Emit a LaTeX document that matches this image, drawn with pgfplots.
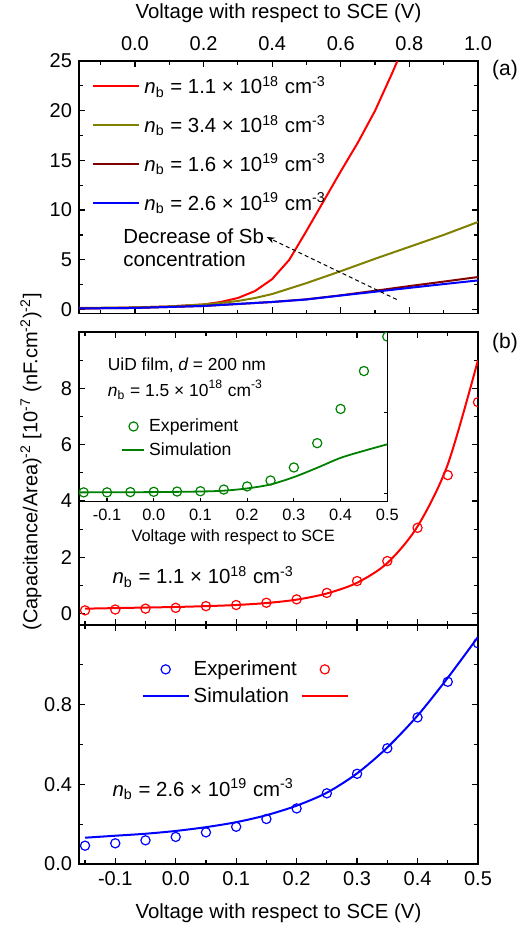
\documentclass[border=0pt]{standalone}
\usepackage{fontspec}
\setmainfont{Liberation Sans}
\usepackage{pgfplots}
\pgfplotsset{compat=1.18}
\usetikzlibrary{arrows.meta}

\definecolor{cRed}{RGB}{255,0,0}
\definecolor{cOlive}{RGB}{128,128,0}
\definecolor{cDark}{RGB}{128,0,0}
\definecolor{cBlue}{RGB}{0,0,255}
\definecolor{cGreen}{RGB}{0,128,0}

\newcommand{\nb}{{\itshape n}\textsubscript{b}}

\pgfplotsset{
  panel/.style={
    scale only axis, width=199.5pt, anchor=north west,
    axis line style={line width=0.7pt},
    every tick/.style={black, line width=0.6pt},
    major tick length=3pt, minor tick length=1.8pt,
    tick label style={font=\fontsize{10}{12}\selectfont},
    label style={font=\fontsize{10.2}{12}\selectfont},
    /pgf/number format/assume math mode=true,
    clip=true, clip marker paths=true,
  },
  sim/.style={line width=1pt},
  expm/.style={only marks, mark=o, mark size=2.3pt, mark options={line width=0.6pt}},
  legmark/.style={legend image code/.code={\draw[##1] plot coordinates {(#1,0pt)};}},
}

\begin{document}
\begin{tikzpicture}

% ---------- (a) ----------
\begin{axis}[panel, at={(0pt,0pt)}, height=126.2pt,
  xmin=-0.163, xmax=1.0, ymin=-0.4, ymax=25,
  xtick={0,0.2,0.4,0.6,0.8,1.0}, minor xtick={-0.1,0.1,0.3,0.5,0.7,0.9},
  xticklabel pos=upper,
  xticklabel style={yshift=1.5pt, /pgf/number format/.cd, fixed, precision=1, zerofill},
  xlabel={Voltage with respect to SCE (V)},
  ytick={0,5,10,15,20,25}, minor ytick={2.5,7.5,12.5,17.5,22.5},
  legend style={at={(axis cs:-0.125,23.9)}, anchor=north west, draw=none, fill=none,
    font=\fontsize{10.2}{12}\selectfont, inner sep=0pt, row sep=5.3pt,
    cells={anchor=west}},
  legend image code/.code={\draw[#1] (0pt,0pt) -- (23pt,0pt);},
]
\addplot[cRed, sim] coordinates {
  (-0.163,0.1) (0,0.2) (0.1,0.3) (0.2,0.5) (0.25,0.75) (0.3,1.15) (0.35,1.85)
  (0.4,3.05) (0.45,5.0) (0.5,7.9) (0.55,10.9) (0.6,13.9) (0.65,16.8) (0.7,20.0)
  (0.75,23.8) (0.8,27.8)
};
\addlegendentry{\nb{} = 1.1 × 10\textsuperscript{18} cm\textsuperscript{-3}}
\addplot[cOlive, sim] coordinates {
  (-0.163,0.15) (0,0.2) (0.1,0.3) (0.2,0.5) (0.25,0.65) (0.3,0.85) (0.35,1.15)
  (0.4,1.55) (0.45,2.1) (0.5,2.65) (0.55,3.25) (0.6,3.85) (0.7,5.1) (0.8,6.3)
  (0.9,7.5) (1.0,8.8)
};
\addlegendentry{\nb{} = 3.4 × 10\textsuperscript{18} cm\textsuperscript{-3}}
\addplot[cDark, sim] coordinates {
  (-0.163,0.1) (0,0.15) (0.2,0.35) (0.4,0.75) (0.5,1.02) (0.6,1.42) (0.7,1.88)
  (0.8,2.35) (0.9,2.8) (1.0,3.26)
};
\addlegendentry{\nb{} = 1.6 × 10\textsuperscript{19} cm\textsuperscript{-3}}
\addplot[cBlue, sim] coordinates {
  (-0.163,0.1) (0,0.15) (0.2,0.35) (0.4,0.75) (0.5,1.0) (0.6,1.4) (0.7,1.78)
  (0.8,2.17) (0.9,2.55) (1.0,2.92)
};
\addlegendentry{\nb{} = 2.6 × 10\textsuperscript{19} cm\textsuperscript{-3}}
\draw[black, line width=0.5pt, dash pattern=on 2pt off 1.5pt, -{Stealth[length=4pt,width=3pt]}]
  (axis cs:0.763,1.0) -- (axis cs:0.384,7.29);
\node[anchor=west, align=left, font=\fontsize{10.2}{11.5}\selectfont, inner sep=0pt]
  at (axis cs:-0.035,6.2) {Decrease of Sb\\concentration};
\end{axis}
\node[font=\fontsize{10.5}{12}\selectfont] at (213pt,-4.5pt) {(a)};

% ---------- (b) ----------
\begin{axis}[panel, at={(0pt,-135.5pt)}, height=146.5pt,
  xmin=-0.16, xmax=0.5, ymin=-0.4, ymax=10,
  xtick={-0.1,0,0.1,0.2,0.3,0.4,0.5},
  minor xtick={-0.15,-0.05,0.05,0.15,0.25,0.35,0.45},
  xticklabels={},
  ytick={0,2,4,6,8}, minor ytick={1,3,5,7,9},
]
\addplot[cRed, expm] coordinates {
  (-0.15,0.12) (-0.1,0.15) (-0.05,0.18) (0,0.21) (0.05,0.27) (0.1,0.31)
  (0.15,0.39) (0.2,0.51) (0.25,0.74) (0.3,1.16) (0.35,1.87) (0.4,3.05)
  (0.45,4.92) (0.5,7.51)
};
\addplot[cRed, sim, smooth] coordinates {
  (-0.15,0.18) (-0.1,0.2) (-0.05,0.22) (0,0.24) (0.05,0.27) (0.1,0.31)
  (0.15,0.38) (0.2,0.5) (0.25,0.72) (0.3,1.1) (0.35,1.8) (0.4,3.1)
  (0.45,5.3) (0.5,9.0)
};
\node[anchor=west, inner sep=0pt, font=\fontsize{10.2}{12}\selectfont]
  at (axis cs:-0.105,1.3) {\nb{} = 1.1 × 10\textsuperscript{18} cm\textsuperscript{-3}};
\end{axis}
\node[font=\fontsize{10.5}{12}\selectfont] at (213pt,-141pt) {(b)};

% ---------- inset ----------
\begin{axis}[panel, at={(0pt,-135.5pt)}, width=154.15pt, height=84.85pt,
  xmin=-0.16, xmax=0.5, ymin=4, ymax=10,
  xtick={-0.1,0,0.1,0.2,0.3,0.4,0.5}, xtick pos=lower,
  ytick={4.29,7.16}, yticklabels={}, ytick pos=right,
  major tick length=1.8pt,
  xticklabel style={font=\fontsize{8.2}{10}\selectfont,
    /pgf/number format/.cd, fixed, precision=1, zerofill},
  xlabel={Voltage with respect to SCE},
  xlabel style={font=\fontsize{8.2}{10}\selectfont, yshift=2.5pt},
  legend style={at={(axis cs:-0.07,6.24)}, anchor=west, draw=none, fill=none,
    font=\fontsize{8.8}{10}\selectfont, inner sep=0pt, row sep=0pt,
    cells={anchor=west}},
  legend image code/.code={\draw[#1] (0pt,0pt) -- (11pt,0pt);},
]
\addlegendimage{cGreen, only marks, mark=o, mark size=2.3pt, mark options={line width=0.6pt}, legmark=5.6pt}
\addlegendentry{Experiment}
\addlegendimage{cGreen, line width=0.9pt}
\addlegendentry{Simulation}
\addplot[cGreen, expm, forget plot] coordinates {
  (-0.15,4.33) (-0.1,4.33) (-0.05,4.34) (0,4.35) (0.05,4.36) (0.1,4.37)
  (0.15,4.43) (0.2,4.54) (0.25,4.75) (0.3,5.21) (0.35,6.07) (0.4,7.28)
  (0.45,8.62) (0.5,9.84)
};
\addplot[cGreen, line width=0.9pt, smooth, forget plot] coordinates {
  (-0.16,4.33) (0,4.34) (0.1,4.36) (0.15,4.39) (0.2,4.47) (0.25,4.61)
  (0.3,4.87) (0.35,5.2) (0.4,5.55) (0.45,5.8) (0.5,6.03)
};
\node[anchor=west, inner sep=0pt, font=\fontsize{8.7}{10}\selectfont]
  at (axis cs:-0.099,8.84) {UiD film, {\itshape d} = 200 nm};
\node[anchor=west, inner sep=0pt, font=\fontsize{8.7}{10}\selectfont]
  at (axis cs:-0.099,7.96) {\nb{} = 1.5 × 10\textsuperscript{18} cm\textsuperscript{-3}};
\end{axis}

% ---------- (c) ----------
\begin{axis}[panel, at={(0pt,-282pt)}, height=119.5pt,
  xmin=-0.16, xmax=0.5, ymin=0, ymax=1.2,
  xtick={-0.1,0,0.1,0.2,0.3,0.4,0.5},
  minor xtick={-0.15,-0.05,0.05,0.15,0.25,0.35,0.45},
  xticklabel style={/pgf/number format/.cd, fixed, precision=1, zerofill},
  xlabel={Voltage with respect to SCE (V)},
  xlabel style={yshift=-2.5pt},
  ytick={0,0.4,0.8}, minor ytick={0.2,0.6,1.0},
  yticklabel style={/pgf/number format/.cd, fixed, precision=1, zerofill},
  legend columns=2,
  legend style={at={(axis cs:-0.057,0.91)}, anchor=west, draw=none, fill=none,
    font=\fontsize{10.2}{12}\selectfont, inner sep=0pt, row sep=0.5pt,
    column sep=0pt, cells={anchor=west}},
  legend image code/.code={\draw[#1] (0pt,0pt) -- (23pt,0pt);},
]
\addlegendimage{cBlue, only marks, mark=o, mark size=2.3pt, mark options={line width=0.6pt}, legmark=11.5pt}
\addlegendentry{Experiment}
\addlegendimage{cRed, only marks, mark=o, mark size=2.3pt, mark options={line width=0.6pt}, legmark=11.5pt}
\addlegendentry{}
\addlegendimage{cBlue, line width=1pt}
\addlegendentry{Simulation}
\addlegendimage{cRed, line width=1pt}
\addlegendentry{}
\addplot[cBlue, expm, forget plot] coordinates {
  (-0.15,0.092) (-0.1,0.104) (-0.05,0.119) (0,0.136) (0.05,0.159) (0.1,0.187)
  (0.15,0.226) (0.2,0.279) (0.25,0.355) (0.3,0.453) (0.35,0.581) (0.4,0.736)
  (0.45,0.915) (0.5,1.108)
};
\addplot[cBlue, sim, smooth, forget plot] coordinates {
  (-0.15,0.132) (-0.1,0.142) (-0.05,0.152) (0,0.166) (0.05,0.185) (0.1,0.21)
  (0.15,0.245) (0.2,0.293) (0.25,0.358) (0.3,0.455) (0.35,0.585) (0.4,0.745)
  (0.45,0.935) (0.5,1.14)
};
\node[anchor=west, inner sep=0pt, font=\fontsize{10.2}{12}\selectfont]
  at (axis cs:-0.105,0.375) {\nb{} = 2.6 × 10\textsuperscript{19} cm\textsuperscript{-3}};
\end{axis}

\node[rotate=90, font=\fontsize{10}{12}\selectfont] at (-24pt,-200.35pt)
  {(Capacitance/Area)\textsuperscript{-2} [10\textsuperscript{-7} (nF.cm\textsuperscript{-2})\textsuperscript{-2}]};

\pgfresetboundingbox
\useasboundingbox (-39.5pt,30.5pt) rectangle (221pt,-433.5pt);
\end{tikzpicture}
\end{document}
